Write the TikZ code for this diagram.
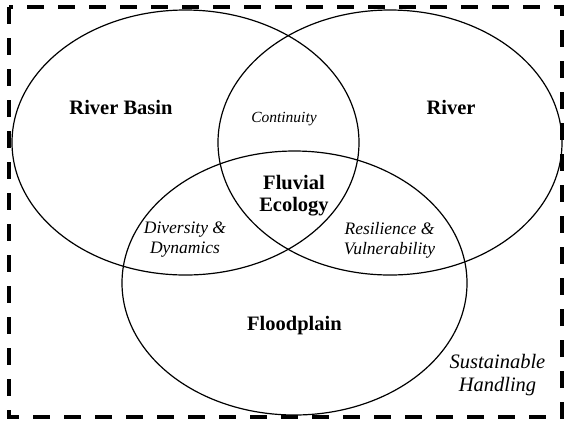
\documentclass[tikz,border=0pt]{standalone}
\usepackage{fontspec}
\setmainfont{Liberation Serif}

\tikzset{
  area/.style={font=\bfseries\fontsize{20.5bp}{22bp}\selectfont, align=center, inner sep=0pt},
  overlap/.style={font=\itshape\fontsize{17.5bp}{20bp}\selectfont, align=center, inner sep=0pt},
  ring/.style={line width=1.2bp},
  frame/.style={line width=4.5bp, dash pattern=on 17bp off 14bp}
}

\begin{document}
\begin{tikzpicture}[x=1bp,y=-1bp]
    \useasboundingbox (0,0) rectangle (565,420);

    % Frame
    \draw[frame] (9,7) rectangle (562,417);

    % Ellipses
    \draw[ring] (185.5,142.5) ellipse [x radius=173.5bp, y radius=132.5bp];
    \draw[ring] (390,142.5) ellipse [x radius=172bp, y radius=132.5bp];
    \draw[ring] (294.5,283) ellipse [x radius=172.5bp, y radius=132bp];

    % Labels
    \node[area] (basin) at (121,107) {River Basin};
    \node[area] (river) at (451,107) {River};
    \node[area] (flood) at (294.5,326) {Floodplain};
    \node[area] (fluvial) at (294,196) {Fluvial\\Ecology};

    \node[overlap, font=\itshape\fontsize{15.5bp}{18bp}\selectfont] (cont) at (284,119) {Continuity};
    \node[overlap] (div) at (185,240) {Diversity \&\\Dynamics};
    \node[overlap] (res) at (389.5,240) {Resilience \&\\Vulnerability};
    \node[overlap, font=\itshape\fontsize{20.5bp}{23bp}\selectfont] (sust) at (497.5,375.5) {Sustainable\\Handling};
\end{tikzpicture}
\end{document}
